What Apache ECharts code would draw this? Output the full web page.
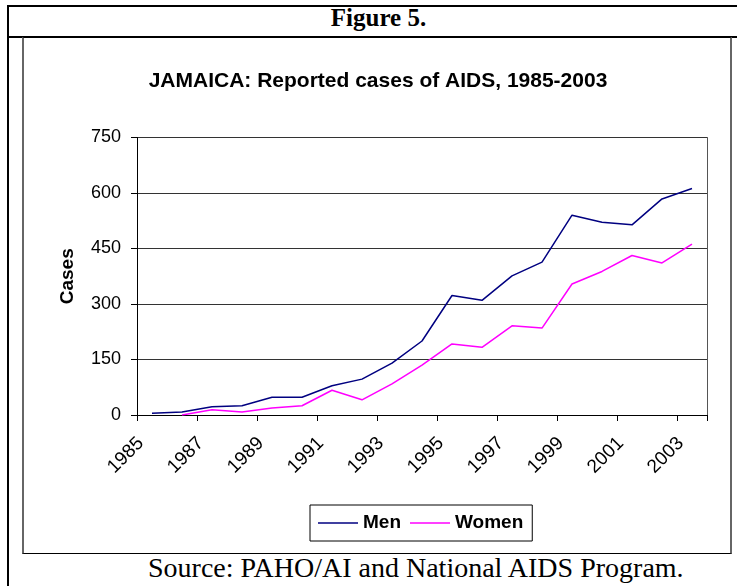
<!DOCTYPE html>
<html>
<head>
<meta charset="utf-8">
<script src="https://cdn.jsdelivr.net/npm/echarts/dist/echarts.min.js"></script>
<style>
body{margin:0;background:#fff;}
#page{position:relative;width:737px;height:586px;overflow:hidden;}
.ln{position:absolute;background:#000;}
#inner{position:absolute;left:22px;top:37px;width:706px;height:515px;border:1px solid #000;border-left:2px solid #666;border-right:2px solid #666;}
#fig{position:absolute;left:0;width:757px;top:4px;text-align:center;font:bold 25px "Liberation Serif","Times New Roman",serif;}
#src{position:absolute;left:148px;top:552px;font:28px "Liberation Serif","Times New Roman",serif;white-space:nowrap;}
#chart{position:absolute;left:0;top:0;width:737px;height:586px;}
</style>
</head>
<body>
<div id="page">
    <div class="ln" style="left:7px;top:5px;width:730px;height:2px;"></div>
    <div class="ln" style="left:7px;top:5px;width:2px;height:581px;"></div>
    <div class="ln" style="left:7px;top:36px;width:730px;height:2px;"></div>
    <div id="inner"></div>
    <div id="fig">Figure 5.</div>
    <div id="src">Source: PAHO/AI and National AIDS Program.</div>
    <div id="chart"></div>
</div>
<script>
var years = ['1985','1986','1987','1988','1989','1990','1991','1992','1993','1994',
    '1995','1996','1997','1998','1999','2000','2001','2002','2003'];
var men = [5, 8, 22, 25, 48, 48, 79, 97, 140, 200, 323, 310, 376, 413, 540, 521, 514, 584, 612];
var women = [null, 0, 14, 8, 19, 25, 67, 41, 84, 135, 192, 183, 241, 235, 354, 388, 431, 411, 462];
var yTicks = [0, 150, 300, 450, 600, 750];

var myChart = echarts.init(document.getElementById('chart'));
var option = {
    animation: false,
    title: {
        text: 'JAMAICA: Reported cases of AIDS, 1985-2003',
        left: 373,
        top: 66,
        textAlign: 'center',
        textStyle: {
            fontFamily: 'Liberation Sans, Arial, sans-serif',
            fontSize: 21,
            fontWeight: 'bold',
            color: '#000'
        }
    },
    legend: {
        left: 310,
        top: 505,
        padding: [8, 9, 8, 8],
        borderColor: '#000',
        borderWidth: 1,
        icon: 'rect',
        itemWidth: 40,
        itemHeight: 1.5,
        itemGap: 9,
        textStyle: {
            fontFamily: 'Liberation Sans, Arial, sans-serif',
            fontSize: 19,
            fontWeight: 'bold',
            color: '#000',
            lineHeight: 20
        },
        data: ['Men', 'Women']
    },
    grid: {
        left: 137,
        right: 30,
        top: 137.5,
        bottom: 171
    },
    xAxis: {
        type: 'category',
        boundaryGap: true,
        data: years,
        axisLine: {lineStyle: {color: '#000', width: 1}},
        axisTick: {show: true, length: 6, lineStyle: {color: '#000'}},
        axisLabel: {
            interval: 1,
            rotate: 45,
            margin: 14,
            padding: [0, 16, 0, 0],
            fontFamily: 'Liberation Sans, Arial, sans-serif',
            fontSize: 19,
            color: '#000'
        }
    },
    yAxis: [{
        type: 'value',
        min: yTicks[0],
        max: yTicks[yTicks.length - 1],
        interval: 150,
        name: 'Cases',
        nameLocation: 'middle',
        nameGap: 60,
        nameTextStyle: {
            fontFamily: 'Liberation Sans, Arial, sans-serif',
            fontSize: 19,
            fontWeight: 'bold',
            color: '#000'
        },
        axisLine: {show: true, lineStyle: {color: '#000'}},
        axisTick: {show: true, length: 6, lineStyle: {color: '#000'}},
        axisLabel: {
            margin: 16,
            fontFamily: 'Liberation Sans, Arial, sans-serif',
            fontSize: 18,
            color: '#000'
        },
        splitLine: {show: true, lineStyle: {color: '#333', width: 1}}
    }, {
        type: 'value',
        position: 'right',
        min: 0,
        max: 750,
        interval: 150,
        axisLine: {show: true, lineStyle: {color: '#555'}},
        axisTick: {show: false},
        axisLabel: {show: false},
        splitLine: {show: false}
    }],
    series: [{
        name: 'Men',
        type: 'line',
        data: men,
        symbol: 'none',
        lineStyle: {color: '#000080', width: 1.5},
        itemStyle: {color: '#000080'}
    }, {
        name: 'Women',
        type: 'line',
        data: women,
        symbol: 'none',
        lineStyle: {color: '#ff00ff', width: 1.5},
        itemStyle: {color: '#ff00ff'}
    }]
};
myChart.setOption(option);
</script>
</body>
</html>
